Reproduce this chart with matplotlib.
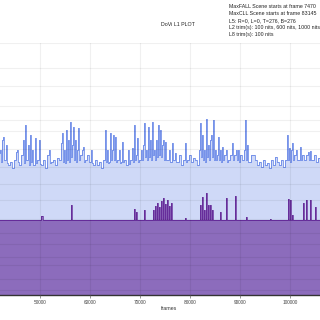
import numpy as np
import matplotlib
matplotlib.use("Agg")
import matplotlib.pyplot as plt

plt.rcParams['font.family'] = ['Liberation Sans', 'DejaVu Sans']

# ---- data (L1 metadata, 12-bit PQ codes) ----
max_frames = [41000, 42000, 42200, 42400, 42600, 42800, 43200, 43400, 43600, 44000,
              44400, 44800, 45200, 45400, 45600, 45800, 46200, 46600, 46800, 47000,
              47200, 47600, 47800, 48000, 48200, 48400, 48600, 49000, 49200, 49400,
              49800, 50000, 50200, 50600, 51000, 51400, 51800, 52000, 52200, 52600,
              53000, 53400, 53800, 54200, 54400, 54600, 54800, 55000, 55200, 55400,
              55600, 55800, 56000, 56200, 56400, 56600, 56800, 57000, 57200, 57400,
              57600, 57800, 58000, 58400, 58600, 58800, 59000, 59400, 59800, 60200,
              60400, 60600, 61000, 61400, 61800, 62200, 62600, 63000, 63200, 63400,
              63600, 63800, 64000, 64200, 64400, 64600, 64800, 65000, 65200, 65400,
              65800, 66000, 66200, 66400, 66600, 66800, 67200, 67600, 67800, 68000,
              68400, 68600, 68800, 69000, 69200, 69400, 69600, 69800, 70200, 70400,
              70600, 70800, 71000, 71200, 71400, 71600, 71800, 72000, 72200, 72400,
              72600, 72800, 73000, 73200, 73400, 73600, 73800, 74000, 74200, 74400,
              74600, 74800, 75000, 75200, 75400, 75800, 76000, 76400, 76600, 76800,
              77000, 77200, 77400, 77800, 78200, 78600, 79000, 79200, 79400, 79800,
              80200, 80600, 81000, 81400, 81800, 82000, 82200, 82400, 82600, 82800,
              83000, 83145, 83400, 83600, 83800, 84000, 84200, 84400, 84600, 84800,
              85000, 85200, 85400, 85600, 85800, 86000, 86200, 86400, 86600, 86800,
              87200, 87400, 87600, 88000, 88400, 88600, 88800, 89200, 89400, 89600,
              89800, 90000, 90400, 90800, 91000, 91200, 91400, 91600, 91800, 92200,
              92600, 93000, 93400, 93800, 94200, 94600, 95000, 95400, 95800, 96200,
              96600, 97000, 97400, 97800, 98200, 98600, 99000, 99400, 99600, 99800,
              100000, 100200, 100400, 100600, 100800, 101200, 101400, 101600, 102000, 102200,
              102400, 102800, 103200, 103600, 103800, 104000, 104200, 104400, 104800, 105200,
              105600, 106000, 106500]
max_pq = [2300, 2356, 2161, 2519, 2568, 2194, 2438, 2145, 2113, 2161,
          2064, 2194, 2324, 2356, 2161, 2113, 2275, 2519, 2145, 2763,
          2194, 2438, 2113, 2600, 2161, 2356, 2113, 2551, 2145, 2194,
          2519, 2130, 2113, 2194, 2064, 2275, 2356, 2145, 2161, 2194,
          2113, 2226, 2194, 2470, 2633, 2161, 2356, 2145, 2681, 2194,
          2519, 2161, 2811, 2243, 2438, 2730, 2194, 2519, 2161, 2356,
          2714, 2194, 2275, 2356, 2405, 2161, 2194, 2275, 2161, 2356,
          2145, 2113, 2194, 2113, 2161, 2064, 2194, 2681, 2161, 2356,
          2145, 2161, 2633, 2194, 2356, 2600, 2194, 2568, 2161, 2194,
          2356, 2145, 2161, 2486, 2161, 2194, 2113, 2356, 2130, 2194,
          2389, 2161, 2763, 2194, 2275, 2551, 2161, 2194, 2356, 2194,
          2438, 2795, 2243, 2356, 2194, 2730, 2243, 2519, 2194, 2811,
          2275, 2356, 2194, 2519, 2243, 2763, 2275, 2681, 2243, 2438,
          2519, 2194, 2486, 2194, 2194, 2356, 2161, 2470, 2194, 2194,
          2308, 2161, 2161, 2275, 2113, 2194, 2470, 2161, 2194, 2275,
          2161, 2226, 2194, 2113, 2356, 2795, 2243, 2600, 2194, 2356,
          2161, 2860, 2243, 2438, 2194, 2519, 2600, 2243, 2844, 2194,
          2356, 2194, 2275, 2568, 2194, 2356, 2161, 2405, 2194, 2275,
          2356, 2161, 2194, 2275, 2470, 2194, 2275, 2356, 2194, 2356,
          2161, 2275, 2194, 2356, 2844, 2194, 2438, 2161, 2161, 2275,
          2275, 2194, 2113, 2161, 2080, 2194, 2113, 2145, 2064, 2194,
          2113, 2243, 2161, 2113, 2194, 2080, 2194, 2600, 2194, 2389,
          2161, 2356, 2470, 2194, 2275, 2356, 2194, 2194, 2405, 2194,
          2275, 2194, 2275, 2324, 2194, 2340, 2194, 2194, 2275, 2161,
          2226, 2194, 2194]

avg_frames = [41000, 50200, 50600, 56200, 56400, 68800, 69000, 69200, 69400, 70800, 71000,
              72600, 72800, 73000, 73200, 73400, 73600, 73800, 74000, 74200, 74400, 74600,
              74800, 75000, 75200, 75400, 75600, 75800, 76000, 76200, 76400, 79000, 79200,
              82000, 82200, 82400, 82600, 82800, 83000, 83200, 83400, 83600, 83800, 84000,
              84200, 84400, 84600, 86000, 86200, 87200, 87400, 89000, 89200, 91200, 91400,
              96000, 96200, 99600, 99800, 100000, 100200, 100400, 100600, 102600, 102800,
              103200, 103400, 104000, 104200, 105000, 105200, 106500]
avg_pq = [1222, 1284, 1222, 1463, 1222, 1398, 1222, 1349, 1222, 1381, 1222,
          1381, 1222, 1446, 1222, 1495, 1222, 1430, 1222, 1528, 1222, 1576,
          1222, 1479, 1222, 1544, 1222, 1446, 1222, 1495, 1222, 1251, 1222,
          1463, 1222, 1593, 1222, 1381, 1222, 1658, 1222, 1463, 1222, 1463,
          1222, 1381, 1222, 1349, 1222, 1576, 1222, 1609, 1222, 1268, 1222,
          1235, 1222, 1560, 1222, 1544, 1222, 1300, 1222, 1495, 1222,
          1544, 1222, 1544, 1222, 1430, 1222, 1222]

nits_ticks = [0.01, 0.1, 0.5, 1, 2.5, 5, 10, 25, 50, 100, 200, 400, 600, 1000, 2000, 4000, 10000]
frame_ticks = [50000, 60000, 70000, 80000, 90000, 100000]

info_lines = ["MaxFALL Scene starts at frame 7470",
              "MaxCLL Scene starts at frame 83145",
              "L5: R=0, L=0, T=276, B=276",
              "L2 trim(s): 100 nits, 600 nits, 1000 nits",
              "L8 trim(s): 100 nits"]
title = "DoVi L1 PLOT"


def pq_code(nits):
    m1, m2 = 0.1593017578125, 78.84375
    c1, c2, c3 = 0.8359375, 18.8515625, 18.6875
    y = (np.asarray(nits, dtype=float) / 10000.0) ** m1
    return ((c1 + c2 * y) / (1 + c3 * y)) ** m2 * 4095


W, H = 320, 320
fig = plt.figure(figsize=(W / 100, H / 100), dpi=100)
ax = fig.add_axes([0, 25 / H, 1, (295 - 43) / H])

blue = (65 / 255, 105 / 255, 225 / 255)
indigo = (75 / 255, 0, 130 / 255)

ax.fill_between(max_frames, 0, max_pq, step='post', color=blue, alpha=0.25, lw=0)
ax.step(max_frames, max_pq, where='post', color=blue, lw=0.6, alpha=0.75)
ax.fill_between(avg_frames, 0, avg_pq, step='post', color=indigo, alpha=0.5, lw=0)
ax.step(avg_frames, avg_pq, where='post', color=indigo, lw=0.7, alpha=0.6)

ax.set_xlim(42000, 106000)
ax.set_ylim(0, 4095)
ax.set_yticks(pq_code(nits_ticks))
ax.set_yticklabels([])
ax.set_xticks(frame_ticks)
ax.set_xticklabels([str(f) for f in frame_ticks], fontsize=3.4, color='#444444')
ax.tick_params(axis='x', length=2, width=0.5, color='#666666', pad=1.5)
ax.tick_params(axis='y', length=0)
ax.grid(True, color='black', alpha=0.06, lw=0.8)
ax.set_axisbelow(False)
for s in ['top', 'left', 'right']:
    ax.spines[s].set_visible(False)
ax.spines['bottom'].set_color('#333333')
ax.spines['bottom'].set_linewidth(1.0)

fig.text(161 / W, 1 - 24 / H, title, fontsize=3.8, color='#222222', ha='left', va='center')
for i, line in enumerate(info_lines):
    fig.text(229 / W, 1 - (7 + 6.8 * i) / H, line, fontsize=3.8, color='#222222',
             ha='left', va='center')
fig.text(169 / W, 1 - 309 / H, "frames", fontsize=3.8, color='#333333', ha='center', va='center')

fig.savefig("out.png", dpi=100)
